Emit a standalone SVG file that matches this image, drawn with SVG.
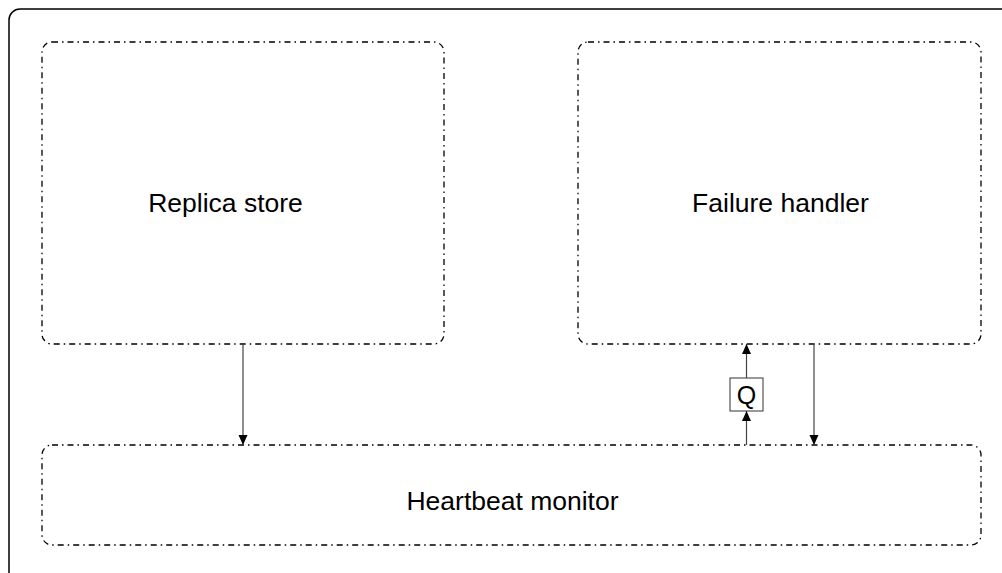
<svg xmlns="http://www.w3.org/2000/svg" width="1002" height="573" viewBox="0 0 1002 573">
  <style>
    .frame { fill: none; stroke: #000; stroke-width: 1.5; }
    .box { fill: #fff; stroke: #000; stroke-width: 1.3; stroke-dasharray: 6 4 1.5 4; }
    .label { font-family: "Liberation Sans", Arial, sans-serif; font-size: 26.5px; fill: #000; text-anchor: middle; dominant-baseline: central; }
    .link { stroke: #444; stroke-width: 1.2; fill: none; marker-end: url(#head); }
    .qbox { fill: #fff; stroke: #333; stroke-width: 1; }
  </style>
  <defs>
    <marker id="head" viewBox="0 0 10 12" refX="10" refY="6" markerWidth="11" markerHeight="12" markerUnits="userSpaceOnUse" orient="auto">
      <path d="M0,1.5 L10,6 L0,10.5 Z" fill="#000"/>
    </marker>
  </defs>

  <rect width="1002" height="573" fill="#fff"/>
  <!-- outer frame, open to the right and bottom -->
  <rect class="frame" x="9" y="9" width="1020" height="600" rx="11"/>

  <g id="replica-store">
    <rect class="box" x="42" y="42" width="402" height="302" rx="10"/>
    <text class="label" x="225.5" y="203">Replica store</text>
  </g>

  <g id="failure-handler">
    <rect class="box" x="578" y="42" width="403" height="302" rx="10"/>
    <text class="label" x="780.5" y="203">Failure handler</text>
  </g>

  <g id="heartbeat-monitor">
    <rect class="box" x="42" y="445" width="939" height="100" rx="10"/>
    <text class="label" x="512.5" y="501">Heartbeat monitor</text>
  </g>

  <g id="queue">
    <rect class="qbox" x="730" y="378" width="33" height="33"/>
    <text class="label" x="746.5" y="395" style="font-size:25px">Q</text>
  </g>

  <g id="connectors">
    <line class="link" x1="243" y1="344" x2="243" y2="445"/>
    <line class="link" x1="814" y1="344" x2="814" y2="445"/>
    <line class="link" x1="746.5" y1="445" x2="746.5" y2="411"/>
    <line class="link" x1="746.5" y1="378" x2="746.5" y2="344"/>
  </g>
</svg>
